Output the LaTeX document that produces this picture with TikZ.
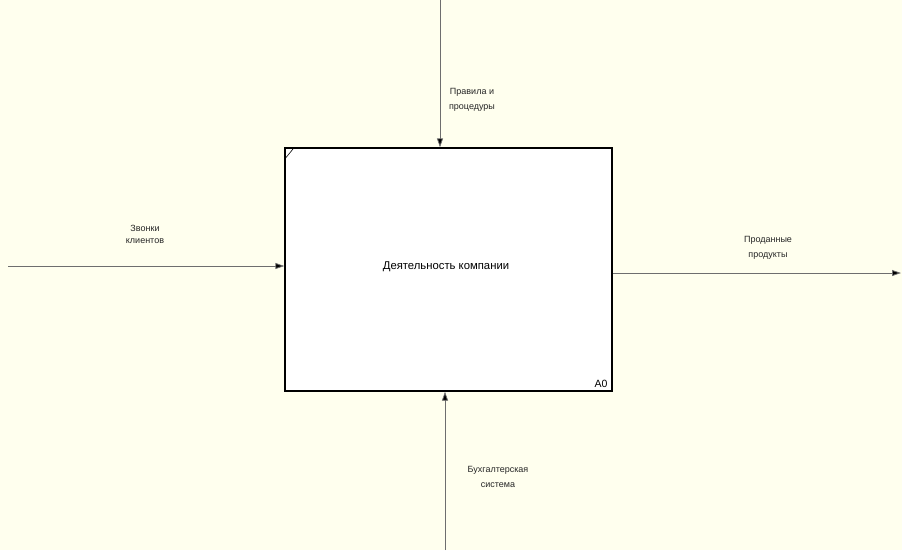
\documentclass[tikz,border=0pt]{standalone}
\usepackage{fontspec}
\setmainfont{Liberation Sans}
\usetikzlibrary{arrows.meta}
\definecolor{paper}{RGB}{255,255,238}
\definecolor{wire}{RGB}{110,110,110}
\begin{document}
\begin{tikzpicture}[x=1pt,y=-1pt,
  flow/.style={draw=wire,line width=0.8pt,-{Triangle[length=9pt,width=6pt,fill=black]}},
  lbl/.style={font=\fontsize{9}{15}\selectfont,align=center,inner sep=0pt,text=black!85},
  act/.style={draw=black,line width=1.3pt,fill=white,minimum width=327pt,minimum height=243pt,inner sep=0pt}]
  \fill[paper] (0,0) rectangle (902,550);
  \useasboundingbox (0,0) rectangle (902,550);
  % the activity box
  \node[act] (a0) at (448.5,269.5) {};
  \node[font=\fontsize{11.3}{13}\selectfont] (title) at (446,267) {Деятельность компании};
  \node[font=\fontsize{10.5}{12}\selectfont,anchor=south east,inner sep=0pt] (num) at ([shift={(-5,-4)}]a0.south east) {A0};
  \draw[line width=0.6pt] ([shift={(1,11)}]a0.north west) -- ([shift={(10,0)}]a0.north west);
  % arrow ends
  \coordinate (ctop) at (440,0);
  \coordinate (cin) at (8,266);
  \coordinate (cout) at (901,273);
  \coordinate (cbot) at (445,550);
  \draw[flow] (ctop) -- (ctop |- a0.north);
  \draw[flow] (cin) -- (cin -| a0.west);
  \draw[flow] (cout -| a0.east) -- (cout);
  \draw[flow] (cbot) -- (cbot |- a0.south);
  % arrow labels
  \node[lbl] (lctl) at (472,100) {Правила и\\процедуры};
  \node[lbl,font=\fontsize{9}{12}\selectfont] (lin) at (145,234) {Звонки\\клиентов};
  \node[lbl] (lout) at (768,248) {Проданные\\продукты};
  \node[lbl] (lmech) at (498,477) {Бухгалтерская\\система};
\end{tikzpicture}
\end{document}
